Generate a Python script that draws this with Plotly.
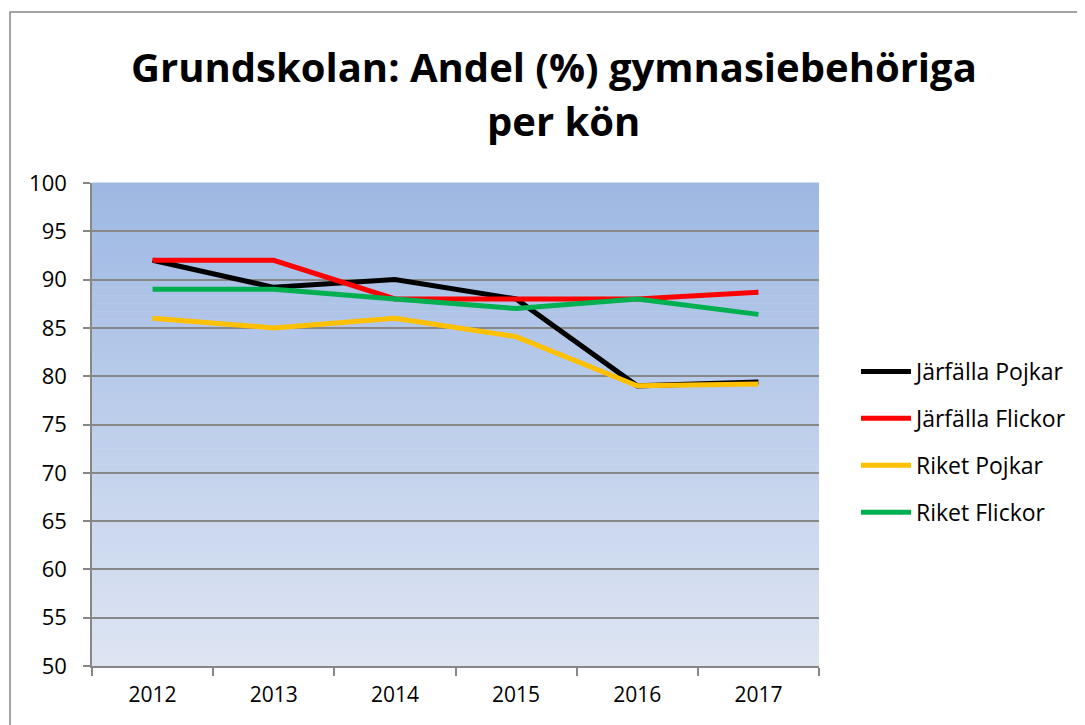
import plotly.graph_objects as go

years = ["2012", "2013", "2014", "2015", "2016", "2017"]
jarfalla_pojkar = [92, 89.2, 90, 88, 79, 79.4]
jarfalla_flickor = [92, 92, 88, 88, 88, 88.7]
riket_pojkar = [86, 85, 86, 84.1, 79, 79.2]
riket_flickor = [89, 89, 88, 87, 88, 86.4]

series = [
    ("Järfälla Pojkar", jarfalla_pojkar, "#000000"),
    ("Järfälla Flickor", jarfalla_flickor, "#FF0000"),
    ("Riket Pojkar", riket_pojkar, "#FFC000"),
    ("Riket Flickor", riket_flickor, "#00B050"),
]

L, T, PW, PH = 84, 175, 727, 483
W, H = 1085, 725

def px(xp):
    return (xp - 8 - L) / PW

def py(yp):
    return (T + PH - (yp - 8)) / PH

fig = go.Figure()
for i, (name, vals, col) in enumerate(series):
    fig.add_trace(go.Scatter(
        x=years, y=vals, name=name, mode="lines",
        line=dict(color=col, width=5),
        legendgroup=f"g{i}",
    ))

# gradient background of plot area
shapes = []
n = 60
top = (157, 184, 227)
bot = (222, 229, 243)
for k in range(n):
    t = (k + 0.5) / n
    c = tuple(round(top[j] + (bot[j] - top[j]) * t) for j in range(3))
    shapes.append(dict(type="rect", xref="x domain", yref="y domain",
                       x0=0, x1=1, y0=1 - (k + 1) / n, y1=1 - k / n + 0.001,
                       fillcolor=f"rgb{c}", line=dict(width=0), layer="below"))
# outer chart border (left/top visible)
shapes.append(dict(type="rect", xref="paper", yref="paper",
                   x0=px(10), x1=1.6, y0=-0.5, y1=py(12),
                   line=dict(color="#878787", width=1.5), fillcolor="rgba(0,0,0,0)",
                   layer="below"))

fig.update_layout(
    width=W, height=H,
    margin=dict(l=L, r=W - L - PW, t=T, b=H - T - PH),
    paper_bgcolor="white", plot_bgcolor="rgba(0,0,0,0)",
    shapes=shapes,
    font=dict(family="Open Sans", color="#000000"),
    showlegend=True,
    legend=dict(x=px(856), xanchor="left", y=py(442), yanchor="middle",
                font=dict(size=23, family="Open Sans"), tracegroupgap=14,
                bgcolor="rgba(0,0,0,0)", itemwidth=50),
    annotations=[
        dict(text="<b>Grundskolan: Andel (%) gymnasiebehöriga</b>", xref="paper", yref="paper",
             x=px(554), y=py(66), xanchor="center", yanchor="middle",
             showarrow=False, font=dict(size=40, family="Open Sans")),
        dict(text="<b>per kön</b>", xref="paper", yref="paper",
             x=px(563), y=py(121), xanchor="center", yanchor="middle",
             showarrow=False, font=dict(size=40, family="Open Sans")),
    ],
)
fig.update_xaxes(type="category", range=[-0.5, 5.5], tickson="boundaries",
                 ticks="outside", ticklen=8, tickcolor="#878787", tickwidth=1.5,
                 showline=True, linecolor="#878787", linewidth=1.5, showgrid=False,
                 ticklabelstandoff=9,
                 tickfont=dict(size=21, family="Open Sans"))
fig.update_yaxes(range=[50, 100], dtick=5, tick0=50, ticks="outside", ticklen=7,
                 tickcolor="#878787", tickwidth=1.5, showline=True, linecolor="#878787",
                 linewidth=1.5, showgrid=True, gridcolor="#878787", gridwidth=1.5,
                 zeroline=False, ticklabelstandoff=12,
                 tickfont=dict(size=22, family="Open Sans"))

fig.write_html("out.html")
